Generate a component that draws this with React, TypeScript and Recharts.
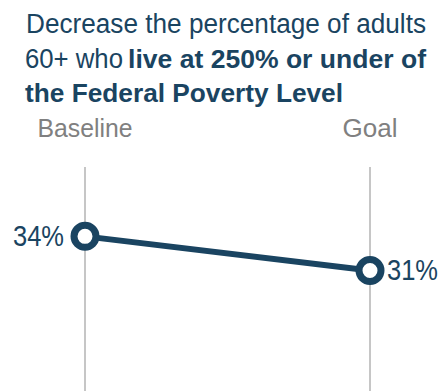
import React from "react";
import { LineChart, Line, XAxis, YAxis, CartesianGrid, LabelList } from "recharts";

const categories = ["Baseline", "Goal"];
const values = [34, 31];
const valueLabels = ["34%", "31%"];

const data = categories.map((c, i) => ({ name: c, value: values[i], label: valueLabels[i] }));

const NAVY = "#1a4461";
const GRAY = "#808080";
const FONT = "'Liberation Sans', Arial, sans-serif";

const TopTick = (props: any) => {
  const { x, payload } = props;
  return (
    <text x={x} y={137} textAnchor="middle" fill={GRAY} fontSize={26} fontFamily={FONT}
      textLength={payload.value === "Baseline" ? 95 : 55} lengthAdjust="spacingAndGlyphs">
      {payload.value}
    </text>
  );
};

const ValueLabel = (props: any) => {
  const { x, y, value, index } = props;
  const left = index === 0;
  return (
    <text
      x={left ? x - 21 : x + 17}
      y={y + 10}
      textAnchor={left ? "end" : "start"}
      fill={NAVY}
      fontSize={29}
      fontFamily={FONT}
      textLength={51}
      lengthAdjust="spacingAndGlyphs"
    >
      {value}
    </text>
  );
};

export default function App() {
  return (
    <div style={{ position: "absolute", left: 0, top: 0, width: 444, height: 391, background: "#fff" }}>
      <svg width={444} height={120} style={{ position: "absolute", left: 0, top: 0 }}>
        <g fill={NAVY} fontFamily={FONT}>
          <text x={26} y={33} fontSize={27} textLength={400} lengthAdjust="spacingAndGlyphs">
            Decrease the percentage of adults
          </text>
          <text x={25} y={68} fontSize={27} textLength={98} lengthAdjust="spacingAndGlyphs">
            60+ who
          </text>
          <text x={128} y={68} fontSize={26} fontWeight="bold" textLength={298} lengthAdjust="spacingAndGlyphs">
            live at 250% or under of
          </text>
          <text x={25} y={102} fontSize={26} fontWeight="bold" textLength={318} lengthAdjust="spacingAndGlyphs">
            the Federal Poverty Level
          </text>
        </g>
      </svg>
      <div style={{ position: "absolute", left: 0, top: 0 }}>
        <LineChart width={444} height={391} data={data} margin={{ top: 137, right: 74, bottom: 0, left: 85 }}>
          <CartesianGrid horizontal={false} vertical={true} stroke="#a0a0a0" strokeWidth={1.2} />
          <XAxis
            dataKey="name"
            orientation="top"
            height={30}
            axisLine={false}
            tickLine={false}
            tick={<TopTick />}
            interval={0}
          />
          <YAxis hide domain={[20.4, 40.1]} allowDataOverflow />
          <Line
            dataKey="value"
            stroke={NAVY}
            strokeWidth={6}
            isAnimationActive={false}
            dot={{ r: 11, stroke: NAVY, strokeWidth: 7, fill: "#fff" }}
            activeDot={false}
          >
            <LabelList dataKey="label" content={<ValueLabel />} />
          </Line>
        </LineChart>
      </div>
    </div>
  );
}
